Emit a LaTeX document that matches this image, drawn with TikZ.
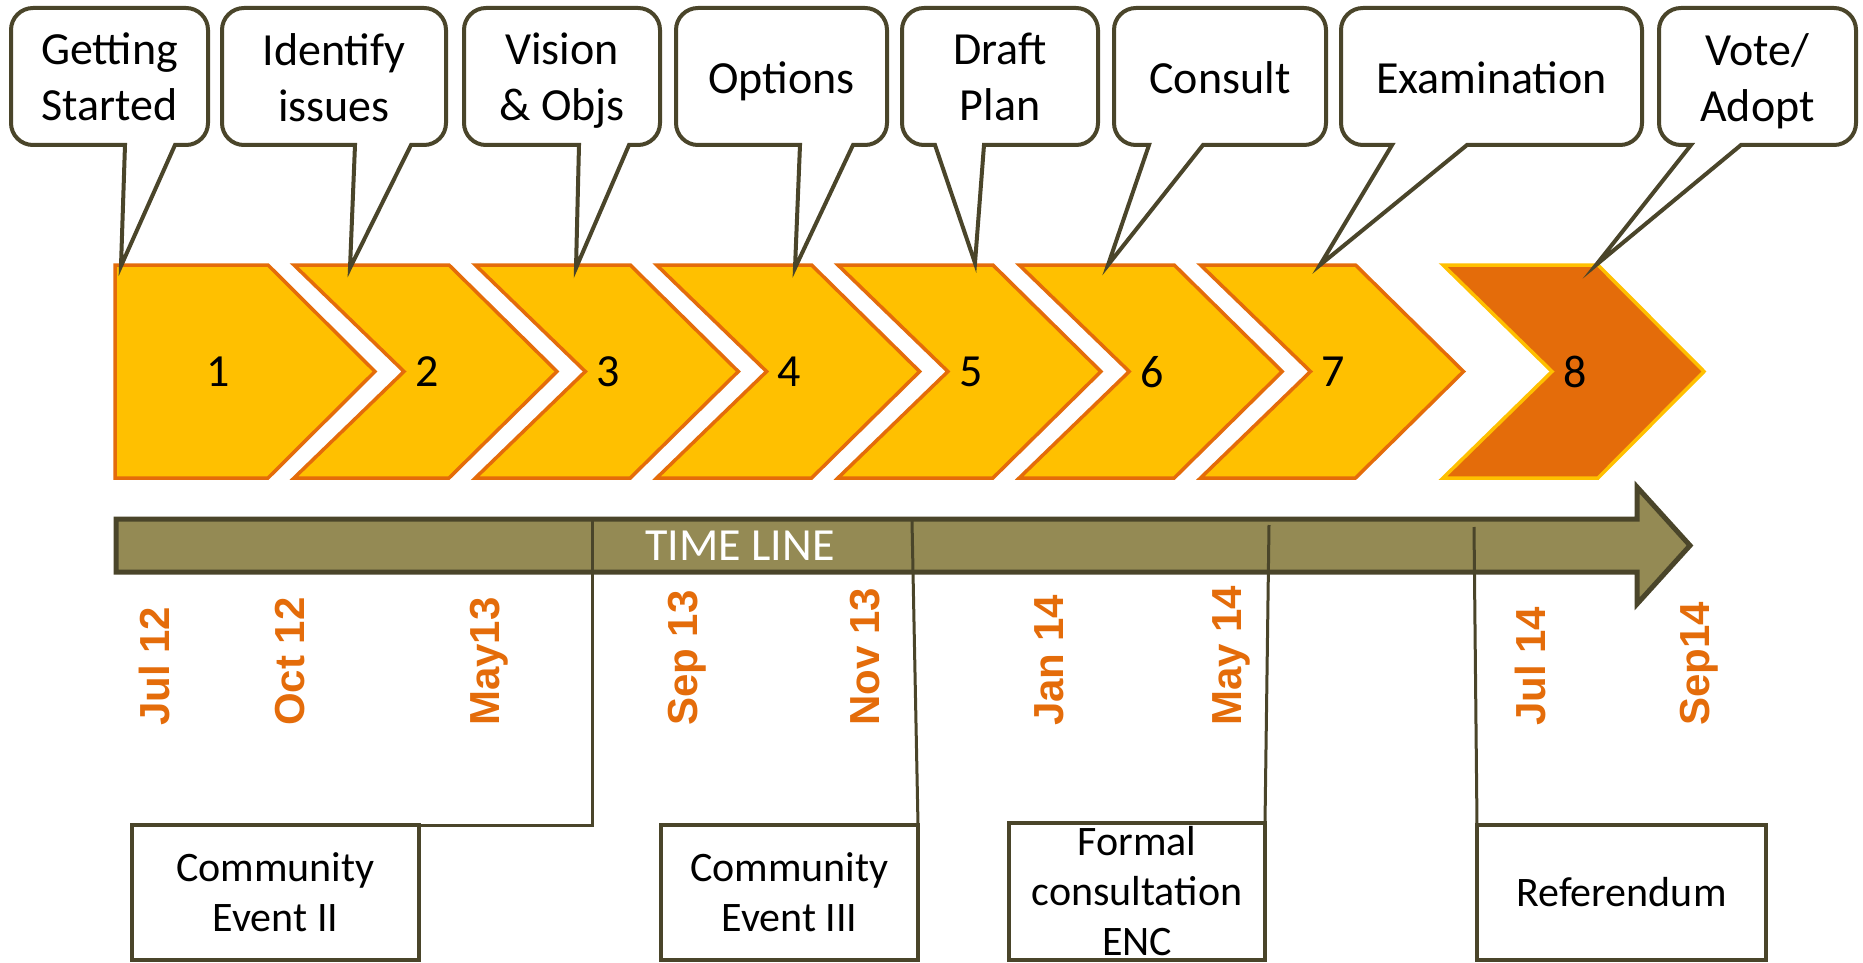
\documentclass[tikz,border=0pt]{standalone}
\usepackage{fontspec}
\setmainfont{Carlito}
\newfontfamily\datefont{Liberation Sans}
\definecolor{dk}{HTML}{4A452A}
\definecolor{tlfill}{HTML}{948A54}
\definecolor{gold}{HTML}{FFC000}
\definecolor{org}{HTML}{E46C0A}
\newcommand\mycallout[8]{%
  \draw[callshape] ({#5},145) -- ({#3-22},145) arc[start angle=90,end angle=0,radius=22]
    -- ({#3},30) arc[start angle=0,end angle=-90,radius=22]
    -- ({#2+22},8) arc[start angle=-90,end angle=-180,radius=22]
    -- ({#2},123) arc[start angle=180,end angle=90,radius=22]
    -- ({#4},145) -- (#6,#7) -- cycle;
  \node[calltext] (#1) at ({(#2+#3)/2},81) {#8};
}
\newcommand\mychev[2]{%
  \draw[#1] (#2,265) -- ({#2+155},265) -- ({#2+263},371.5) -- ({#2+155},478) -- (#2,478) -- ({#2+110},371.5) -- cycle;
}
\begin{document}
\begin{tikzpicture}[x=1pt,y=-1pt,
  callshape/.style={draw=dk,fill=white,line width=4pt},
  calltext/.style={align=center,inner sep=0pt,font=\fontsize{46}{56}\selectfont,execute at begin node={\vphantom{dg}},execute at end node={\vphantom{dg}}},
  chev/.style={fill=gold,draw=org,line width=3.5pt,line join=miter},
  chevlast/.style={fill=org,draw=gold,line width=3.5pt,line join=miter},
  num/.style={inner sep=0pt,font=\fontsize{46}{56}\selectfont},
  tline/.style={fill=tlfill,draw=dk,line width=5pt,line join=miter},
  tltext/.style={inner sep=0pt,text=white,font=\fontsize{46}{56}\selectfont},
  datelbl/.style={inner sep=0pt,text=org,rotate=90,anchor=base west,font=\datefont\bfseries\fontsize{42}{50}\selectfont},
  evbox/.style={draw=dk,fill=white,line width=4pt,outer sep=0pt,inner sep=0pt,align=center,font=\fontsize{42}{50}\selectfont},
  conn/.style={draw=dk,line width=3pt}
]
\useasboundingbox (0,0) rectangle (1863,963);
\fill[white] (0,0) rectangle (1863,963);

% chevrons
\draw[chev] (115,265) -- (268,265) -- (375,371.5) -- (268,478) -- (115,478) -- cycle;
\mychev{chev}{294}
\mychev{chev}{475.3}
\mychev{chev}{656.6}
\mychev{chev}{837.9}
\mychev{chev}{1019.2}
\mychev{chev}{1200.5}
\draw[chevlast] (1443,265) -- (1598,265) -- (1704,371.5) -- (1598,478) -- (1443,478) -- (1552,371.5) -- cycle;

\node[num] (n1) at (218,372) {1};
\node[num] (n2) at (427,372) {2};
\node[num] (n3) at (608.3,372) {3};
\node[num] (n4) at (789.6,372) {4};
\node[num] (n5) at (970.9,372) {5};
\node[num] (n6) at (1152.2,372) {6};
\node[num] (n7) at (1333.5,372) {7};
\node[num] (n8) at (1575,372) {8};

% timeline
\draw[tline] (116,519) -- (1637,519) -- (1637,487) -- (1690,545.5) -- (1637,604) -- (1637,572) -- (116,572) -- cycle;
\node[tltext] (tl) at (740,546) {TIME LINE};

\coordinate (t1) at (592,520);
\coordinate (t2) at (912,521);
\coordinate (t3) at (1269,525);
\coordinate (t4) at (1474,527);

% event boxes
\node[evbox,minimum width=287pt,minimum height=135pt] (ev2) at (275.5,892.5) {Community\\Event II};
\node[evbox,minimum width=257pt,minimum height=135pt] (ev3) at (789.5,892.5) {Community\\Event III};
\node[evbox,minimum width=256pt,minimum height=137pt] (ev4) at (1137,891.5) {Formal\\consultation\\ENC};
\node[evbox,minimum width=289pt,minimum height=135pt] (ref) at (1621.5,892.5) {Referendum};

\draw[conn] (t1) |- (ev2.north east);
\draw[conn] (t2) -- (ev3.north east);
\draw[conn] (t3) -- (ev4.north east);
\draw[conn] (t4) -- (ref.north west);

% dates
\node[datelbl] (d1) at (169,726) {Jul 12};
\node[datelbl] (d2) at (304,726) {Oct 12};
\node[datelbl] (d3) at (499,726) {May13};
\node[datelbl] (d4) at (697,726) {Sep 13};
\node[datelbl] (d5) at (879,726) {Nov 13};
\node[datelbl] (d6) at (1063,726) {Jan 14};
\node[datelbl] (d7) at (1241,726) {May 14};
\node[datelbl] (d8) at (1545,726) {Jul 14};
\node[datelbl] (d9) at (1709,726) {Sep14};

% callouts
\mycallout{c1}{11}{208}{125}{175}{121}{266}{Getting\\Started}
\mycallout{c2}{222}{446}{355}{411}{350}{268}{Identify\\issues}
\mycallout{c3}{464}{660}{579}{629}{576}{268}{Vision\\\& Objs}
\mycallout{c4}{676}{887}{800}{853}{795}{268}{Options}
\mycallout{c5}{902}{1098}{935}{984}{975}{263}{Draft\\Plan}
\mycallout{c6}{1114}{1326}{1149}{1203}{1108}{265}{Consult}
\mycallout{c7}{1341}{1642}{1392}{1467}{1320}{265}{Examination}
\mycallout{c8}{1659}{1856}{1691}{1741}{1596}{265}{Vote/\\Adopt}
\end{tikzpicture}
\end{document}
